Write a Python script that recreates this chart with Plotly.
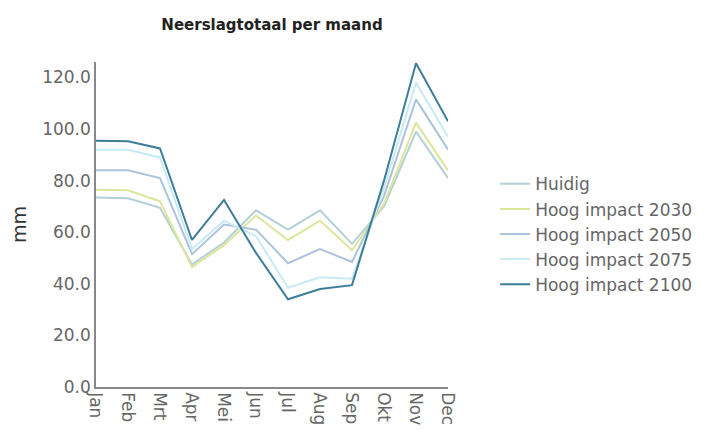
import plotly.graph_objects as go

months = ["Jan", "Feb", "Mrt", "Apr", "Mei", "Jun", "Jul", "Aug", "Sep", "Okt", "Nov", "Dec"]
huidig = [73.5, 73.2, 69.5, 47.5, 56.0, 68.5, 61.0, 68.5, 55.5, 70.0, 99.0, 81.0]
hoog_2030 = [76.5, 76.3, 72.0, 46.5, 55.0, 66.5, 57.0, 64.5, 53.0, 71.0, 102.5, 84.0]
hoog_2050 = [84.0, 84.0, 81.0, 51.5, 63.0, 61.0, 48.0, 53.5, 48.5, 74.0, 111.5, 92.0]
hoog_2075 = [92.0, 92.0, 89.0, 53.5, 64.5, 58.5, 38.5, 42.5, 42.0, 77.0, 118.0, 97.0]
hoog_2100 = [95.5, 95.3, 92.5, 57.0, 72.5, 52.0, 34.0, 38.0, 39.5, 80.0, 125.5, 103.0]

series = [
    ("Huidig", huidig, "#b3d0d6"),
    ("Hoog impact 2030", hoog_2030, "#dbe69a"),
    ("Hoog impact 2050", hoog_2050, "#acc3dc"),
    ("Hoog impact 2075", hoog_2075, "#c8ebf3"),
    ("Hoog impact 2100", hoog_2100, "#3d7d98"),
]

fig = go.Figure()
for name, vals, col in series:
    fig.add_trace(go.Scatter(x=months, y=vals, name=name, mode="lines",
                             line=dict(color=col, width=2)))

fig.update_layout(
    width=707, height=430,
    paper_bgcolor="white", plot_bgcolor="white",
    margin=dict(l=88, r=267, t=54, b=51, autoexpand=False),
    title=dict(text="<b>Neerslagtotaal per maand</b>", x=(88 + 440) / 2 / 707, xanchor="center",
               y=1 - 17 / 430, yanchor="middle",
               font=dict(family="DejaVu Sans", size=15, color="#222")),
    font=dict(family="DejaVu Sans", color="#666"),
    showlegend=True,
    legend=dict(x=1.134, xanchor="left", y=0.47, yanchor="middle",
                font=dict(family="DejaVu Sans", size=17, color="#666"),
                bgcolor="rgba(0,0,0,0)", tracegroupgap=0),
    xaxis=dict(range=[0, 11], showgrid=False, showline=True, linecolor="#888", linewidth=1.5,
               tickangle=90, ticks="", tickfont=dict(size=17, color="#666"), zeroline=False,
               automargin=False),
    yaxis=dict(range=[0, 126], showgrid=False, showline=True, linecolor="#888", linewidth=1.5,
               tickvals=[0, 20, 40, 60, 80, 100, 120], tickformat=".1f", ticks="",
               tickfont=dict(size=17, color="#666"), zeroline=False, automargin=False,
               title=dict(text="mm", font=dict(size=19, color="#333"), standoff=18)),
)

fig.write_html("out.html")
